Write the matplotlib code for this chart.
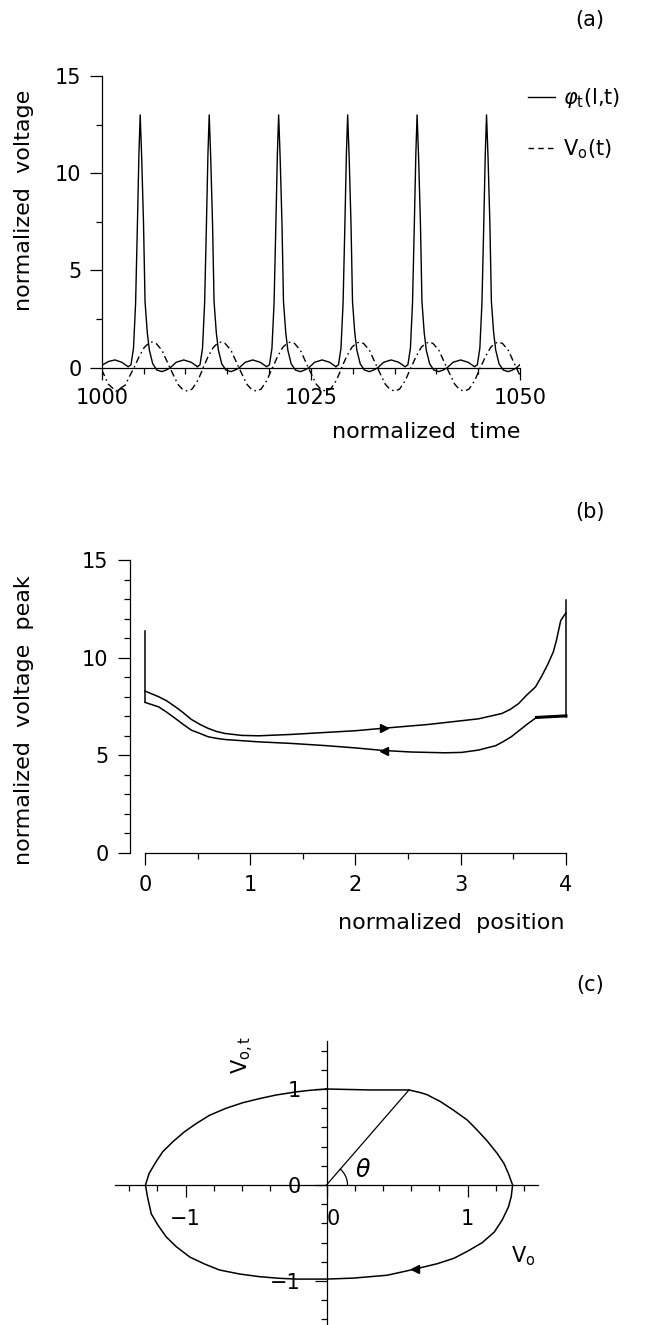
import numpy as np
import matplotlib.pyplot as plt

plt.rcParams['font.family'] = ['DejaVu Sans']
plt.rcParams['mathtext.fontset'] = 'dejavusans'

W, H = 650, 1325

# ---- (a) time traces -------------------------------------------------
peak_times = [1004.6, 1012.85, 1021.15, 1029.4, 1037.7, 1046.0]
# one pulse of phi_t(l,t), offsets from its peak
pulse_dt = [-1.43, -1.1, -0.8, -0.55, -0.35, -0.15, 0.0, 0.18, 0.40, 0.58,
            0.85, 1.1, 1.5, 2.0, 2.6, 3.1, 3.6, 4.3, 5.2, 6.1, 6.85]
pulse_v = [0.05, 0.15, 1.0, 3.3, 7.0, 11.0, 13.0, 10.8, 7.4, 3.4,
           1.8, 0.9, 0.2, -0.12, -0.2, -0.12, 0.0, 0.28, 0.40, 0.28, 0.05]
lead_t = [1000.0, 1000.8, 1001.6, 1002.4, 1003.15]
lead_v = [0.12, 0.32, 0.40, 0.28, 0.05]
# one period of V_o(t), offsets from the pulse peak
vo_dt = [-0.73, -0.1, 0.5, 1.0, 1.4, 1.9, 2.6, 3.55, 4.5, 5.1, 5.65, 6.2, 6.9, 7.55]
vo_v = [0.0, 0.6, 1.05, 1.25, 1.32, 1.25, 0.9, 0.0, -0.85, -1.13, -1.2, -1.1, -0.65, 0.0]
vo_lead_t = [1000.0, 1000.8, 1001.7, 1002.8, 1003.85]
vo_lead_v = [-0.1, -0.85, -1.2, -0.9, 0.0]

# ---- (b) peak voltage along the line ---------------------------------
up_x = [0, 0.13, 0.206, 0.29, 0.364, 0.44, 0.523, 0.60, 0.68, 0.76, 0.92,
        1.08, 1.39, 1.71, 2.0, 2.25, 2.69, 3.17, 3.39, 3.47, 3.55, 3.626,
        3.71, 3.77, 3.83, 3.88, 3.91, 3.95, 4.0]
up_y = [8.29, 8.0, 7.79, 7.48, 7.18, 6.84, 6.58, 6.38, 6.22, 6.12, 6.02,
        6.0, 6.07, 6.17, 6.26, 6.38, 6.58, 6.87, 7.14, 7.35, 7.65, 8.08,
        8.5, 9.06, 9.69, 10.3, 10.9, 11.9, 12.3]
low_x = [0, 0.13, 0.206, 0.29, 0.364, 0.44, 0.523, 0.60, 0.68, 0.76, 0.92,
         1.08, 1.39, 1.71, 2.0, 2.26, 2.53, 2.85, 3.01, 3.17, 3.24, 3.33,
         3.40, 3.48, 3.56, 3.64, 3.72, 4.0]
low_y = [7.71, 7.48, 7.21, 6.88, 6.58, 6.29, 6.12, 5.95, 5.87, 5.81, 5.75,
         5.69, 5.61, 5.50, 5.38, 5.25, 5.17, 5.13, 5.15, 5.27, 5.37, 5.49,
         5.69, 5.95, 6.29, 6.63, 6.94, 7.02]
left_spike_y = [7.71, 11.36]
right_spike_y = [6.97, 12.94]

# ---- (c) phase orbit (clockwise from the top) -------------------------
orbit_x = [0, 0.312, 0.585, 0.667, 0.714, 0.809, 0.90, 0.998, 1.07, 1.14,
           1.21, 1.258, 1.29, 1.32, 1.31, 1.29, 1.246, 1.19, 1.104, 1.0,
           0.903, 0.785, 0.63, 0.43, 0.19, 0, -0.215, -0.333, -0.475, -0.617,
           -0.76, -0.865, -0.97, -1.066, -1.137, -1.196, -1.243, -1.27, -1.284,
           -1.258, -1.21, -1.161, -1.09, -1.007, -0.924, -0.83, -0.711, -0.594,
           -0.475, -0.357, -0.215, -0.12, 0]
orbit_y = [1.0, 0.99, 0.99, 0.962, 0.94, 0.868, 0.78, 0.677, 0.57, 0.458,
           0.33, 0.226, 0.12, 0.0, -0.122, -0.23, -0.365, -0.49, -0.601, -0.69,
           -0.764, -0.82, -0.875, -0.94, -0.97, -0.98, -0.98, -0.972, -0.955, -0.927,
           -0.885, -0.823, -0.75, -0.642, -0.54, -0.417, -0.30, -0.12, 0.0,
           0.12, 0.24, 0.347, 0.45, 0.555, 0.64, 0.726, 0.80, 0.857,
           0.90, 0.9375, 0.97, 0.986, 1.0]
orbit_arrow_x = 0.63
radius_x = [0, 0.585]
radius_y = [0, 0.99]

fig = plt.figure(figsize=(W / 100, H / 100), dpi=100)


def px_axes(left, top, right, bottom):
    return fig.add_axes([left / W, 1 - bottom / H, (right - left) / W, (bottom - top) / H])


def ftext(x, y, s, size=15, **kw):
    fig.text(x / W, 1 - y / H, s, fontsize=size, **kw)


def style(ax, lab_pad):
    for side in ('top', 'right'):
        ax.spines[side].set_visible(False)
    for side in ('left', 'bottom'):
        ax.spines[side].set_linewidth(0.9)
    ax.tick_params(which='major', direction='out', length=8.5, width=0.9,
                   labelsize=15, pad=lab_pad)
    ax.tick_params(which='minor', direction='out', length=4.5, width=0.9)
    ax.patch.set_alpha(0)


# (a)
ax = px_axes(101.7, 76, 520, 396.9)
t_solid, v_solid = list(lead_t), list(lead_v)
t_vo, v_vo = list(vo_lead_t), list(vo_lead_v)
for tp in peak_times:
    t_solid += [tp + d for d in pulse_dt]
    v_solid += pulse_v
    t_vo += [tp + d for d in vo_dt]
    v_vo += vo_v
l1, = ax.plot(t_solid, v_solid, color='k', lw=1.0)
l2, = ax.plot(t_vo, v_vo, color='k', lw=1.0, ls=(0, (5, 2.5, 1.2, 2.5)))
ax.set_xlim(1000, 1050)
ax.set_ylim(-1.5, 15)
style(ax, 6)
ax.spines['bottom'].set_position(('data', 0))
ax.spines['bottom'].set_bounds(1000, 1050)
ax.spines['left'].set_bounds(0, 15)
ax.set_xticks([1000, 1025, 1050])
ax.set_xticks(np.arange(1000, 1051, 5), minor=True)
ax.set_yticks([0, 5, 10, 15])
ax.set_yticks(np.arange(0, 15.1, 2.5), minor=True)
ftext(24, 200, 'normalized  voltage', 16, rotation=90, ha='center', va='center')
ftext(520, 432, 'normalized  time', 16, ha='right', va='center')
ftext(590, 20, '(a)', ha='center', va='center')
l2d, = ax.plot([], [], color='k', lw=1.0, ls=(0, (4, 3)))
fig.legend([l1, l2d], [r'$\varphi_{\mathrm{t}}$(l,t)', r'$\mathrm{V_o}$(t)'],
           loc='upper left', bbox_to_anchor=(528 / W, 1 - 86 / H), frameon=False,
           fontsize=15, handlelength=1.3, handletextpad=0.4, labelspacing=1.3,
           borderaxespad=0, borderpad=0)

# (b)
ax = px_axes(130, 560, 576.5, 853)
ax.plot(up_x, up_y, color='k', lw=1.1)
ax.plot(low_x, low_y, color='k', lw=1.1)
ax.plot(low_x[-2:], low_y[-2:], color='k', lw=2.2)
ax.plot([0, 0], left_spike_y, color='k', lw=1.1)
ax.plot([4, 4], right_spike_y, color='k', lw=1.1)
xa = 2.27
ax.plot([xa], [np.interp(xa, up_x, up_y)], marker='>', ms=6, color='k')
ax.plot([xa], [np.interp(xa, low_x, low_y)], marker='<', ms=6, color='k')
ax.set_xlim(-0.1425, 4.1)
ax.set_ylim(0, 15)
style(ax, 7)
ax.spines['bottom'].set_bounds(0, 4)
ax.spines['left'].set_bounds(0, 15)
ax.set_xticks([0, 1, 2, 3, 4])
ax.set_xticks(np.arange(0, 4.01, 0.5), minor=True)
ax.set_yticks([0, 5, 10, 15])
ax.set_yticks(np.arange(0, 15.1, 1), minor=True)
ftext(24, 720, 'normalized  voltage  peak', 16, rotation=90, ha='center', va='center')
ftext(565, 923, 'normalized  position', 16, ha='right', va='center')
ftext(590, 512, '(b)', ha='center', va='center')

# (c)
ax = px_axes(115, 1041, 538, 1329)
ax.plot(orbit_x, orbit_y, color='k', lw=1.1)
ax.plot(radius_x, radius_y, color='k', lw=0.9)
ia = orbit_x.index(orbit_arrow_x)
ax.plot([orbit_x[ia]], [orbit_y[ia]], marker='<', ms=6, color='k')
# angle arc drawn in screen space around the origin
r_px = 21
ang = np.arctan2(radius_y[1] * 96, radius_x[1] * 141)
a = np.linspace(0, ang, 30)
ax.plot(r_px / 141 * np.cos(a), r_px / 96 * np.sin(a), color='k', lw=0.9)
ax.text(0.26, 0.16, r'$\theta$', fontsize=17, ha='center', va='center')
ax.set_xlim(-1.5, 1.5)
ax.set_ylim(-1.5, 1.5)
style(ax, 9)
ax.spines['left'].set_position(('data', 0))
ax.spines['bottom'].set_position(('data', 0))
ax.set_xticks([-1, 0, 1])
ax.set_xticks(np.arange(-1.4, 1.41, 0.2), minor=True)
ax.set_yticks([-1, 0, 1])
ax.set_yticks(np.arange(-1.4, 1.41, 0.2), minor=True)
ax.tick_params(axis='y', pad=10)
ax.get_xticklabels()[1].set_horizontalalignment('left')
ftext(243, 1055, r'$\mathrm{V_{o,t}}$', rotation=90, ha='center', va='center')
ftext(523, 1256, r'$\mathrm{V_o}$', ha='center', va='center')
ftext(590, 985, '(c)', ha='center', va='center')

fig.savefig('out.png', dpi=100)
